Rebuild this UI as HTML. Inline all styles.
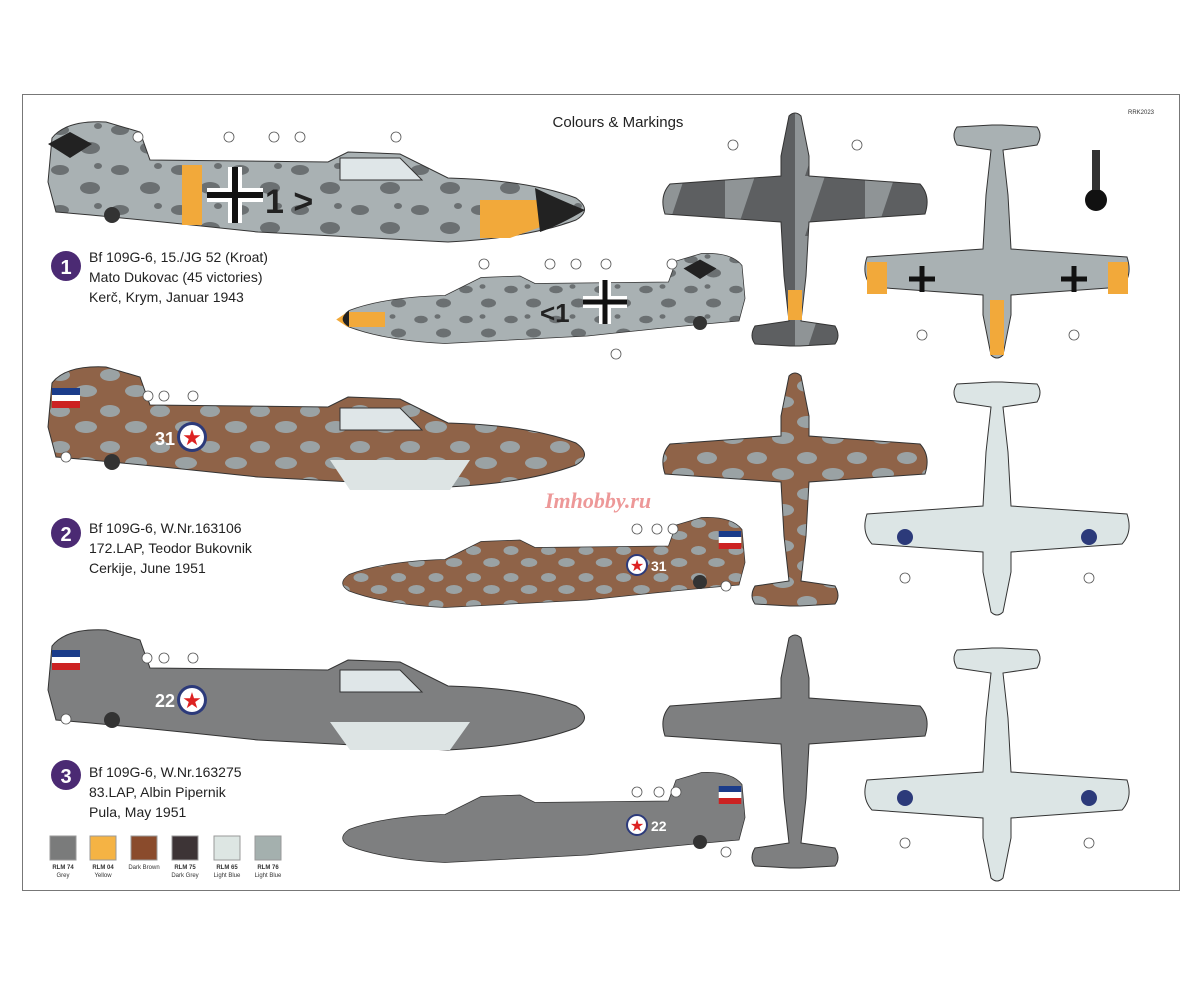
<!DOCTYPE html>
<html><head><meta charset="utf-8"><style>
body{margin:0;background:#fff;width:1200px;height:982px;overflow:hidden}
svg{display:block}
.c{font-family:"Liberation Sans",sans-serif;font-size:14px;fill:#222}
.s{font-family:"Liberation Sans",sans-serif;font-size:7px;fill:#333}
.n{font-family:"Liberation Sans",sans-serif;font-size:6px;fill:#333}
</style></head><body>
<svg width="1200" height="982" viewBox="0 0 1200 982">
<defs>
<path id="side" d="M0,62 L4,18 Q18,0 58,2 L92,12 L102,40 L280,42 L300,32 L352,34 L400,58 Q480,60 528,78 Q545,90 528,100 Q480,118 400,122 L210,112 Q80,98 8,92 Z"/>
<path id="top" d="M-6,0 Q0,-6 6,0 L14,40 L14,60 L125,68 Q136,80 130,98 L14,106 L11,160 L6,205 L40,210 Q46,220 40,228 L5,230 L-5,230 L-40,228 Q-46,220 -40,210 L-6,205 L-11,160 L-14,106 L-130,98 Q-136,80 -125,68 L-14,60 L-14,40 Z"/>
<pattern id="camo1" width="60" height="40" patternUnits="userSpaceOnUse"><rect width="60" height="40" fill="#a9b1b3"/><ellipse cx="12" cy="10" rx="9" ry="5" fill="#6b7072"/><ellipse cx="42" cy="28" rx="10" ry="6" fill="#6b7072"/><ellipse cx="50" cy="6" rx="4" ry="3" fill="#6b7072"/></pattern>
<pattern id="camo2" width="50" height="36" patternUnits="userSpaceOnUse"><rect width="50" height="36" fill="#8f6348"/><ellipse cx="12" cy="10" rx="10" ry="6" fill="#9aa2a4"/><ellipse cx="38" cy="26" rx="11" ry="6" fill="#9aa2a4"/></pattern>
<pattern id="camo3" width="70" height="60" patternUnits="userSpaceOnUse"><rect width="70" height="60" fill="#5d5f61"/><path d="M0,0 L30,0 L10,60 L0,60Z" fill="#8f9496"/></pattern>
</defs>
<rect x="22.5" y="94.5" width="1157" height="796" fill="none" stroke="#777" stroke-width="1"/>
<text x="618" y="127" class="c" text-anchor="middle" style="font-size:15px">Colours &amp; Markings</text>
<text x="1128" y="114" class="s" style="font-size:6px">RRK2023</text>

<!-- Row 1 -->
<use href="#side" transform="translate(48,120)" fill="url(#camo1)" stroke="#333"/>
<path d="M182,165 h20 v60 h-20z M480,200 h60 l20,20 l-50,18 h-30z" fill="#f2a93a"/>
<path d="M535,188 Q560,200 585,210 Q560,225 540,232 Z" fill="#222"/>
<path d="M340,158 h60 l22,22 h-82z" fill="#dfe6e8" stroke="#333"/>
<path d="M70,132 l22,12 l-22,14 l-22,-14z" fill="#222"/>
<g stroke="#fff" stroke-width="14"><path d="M235,167 v56 M207,195 h56"/></g>
<g stroke="#111" stroke-width="6"><path d="M235,167 v56 M207,195 h56"/></g>
<text x="265" y="213" style="font:bold 34px 'Liberation Sans',sans-serif" fill="#222">1 &gt;</text>
<circle cx="112" cy="215" r="8" fill="#333"/>
<g transform="translate(745,252) scale(-0.75,0.75)"><use href="#side" fill="url(#camo1)" stroke="#333"/><path d="M480,80 h50 l15,10 l-15,10 h-50z" fill="#f2a93a"/><path d="M528,78 Q545,90 528,100 Z" fill="#222"/><path d="M60,10 l22,12 l-22,14 l-22,-14z" fill="#222"/></g>
<g stroke="#fff" stroke-width="12"><path d="M605,280 v44 M583,302 h44"/></g>
<g stroke="#111" stroke-width="5"><path d="M605,280 v44 M583,302 h44"/></g>
<text x="540" y="322" style="font:bold 26px 'Liberation Sans',sans-serif" fill="#222">&lt;1</text>
<circle cx="700" cy="323" r="7" fill="#333"/>
<use href="#top" transform="translate(795,116)" fill="url(#camo3)" stroke="#333"/>
<rect x="788" y="290" width="14" height="30" fill="#f2a93a"/>
<use href="#top" transform="translate(997,355) scale(1,-1)" fill="#a9b1b3" stroke="#333"/>
<path d="M867,262 h20 v32 h-20z M1108,262 h20 v32 h-20z M990,300 h14 v55 h-14z" fill="#f2a93a"/>
<g stroke="#111" stroke-width="5"><path d="M922,266 v26 M909,279 h26 M1074,266 v26 M1061,279 h26"/></g>
<ellipse cx="1096" cy="200" rx="11" ry="11" fill="#111"/><rect x="1092" y="150" width="8" height="40" fill="#333"/>
<circle cx="66" cy="266" r="15" fill="#4b2a73"/><text x="66" y="274" text-anchor="middle" style="font:bold 20px 'Liberation Sans',sans-serif" fill="#fff">1</text>
<text x="89" y="262" class="c">Bf 109G-6, 15./JG 52 (Kroat)</text>
<text x="89" y="282" class="c">Mato Dukovac (45 victories)</text>
<text x="89" y="302" class="c">Kerč, Krym, Januar 1943</text>

<!-- Row 2 -->
<use href="#side" transform="translate(48,365)" fill="url(#camo2)" stroke="#333"/>
<path d="M340,408 h60 l22,22 h-82z" fill="#dfe6e8" stroke="#333"/>
<path d="M330,460 h140 l-20,30 h-100z" fill="#dde4e4"/>
<circle cx="192" cy="437" r="15" fill="#2c3a7a"/><circle cx="192" cy="437" r="12" fill="#fff"/><text x="192" y="445" text-anchor="middle" fill="#d22" style="font-size:22px">★</text>
<text x="155" y="445" style="font:bold 18px 'Liberation Sans',sans-serif" fill="#fff">31</text>
<path d="M52,388 h28 v7 h-28z" fill="#1b3c8a"/><path d="M52,395 h28 v6 h-28z" fill="#fff"/><path d="M52,401 h28 v7 h-28z" fill="#c22"/>
<circle cx="112" cy="462" r="8" fill="#333"/>
<g transform="translate(745,516) scale(-0.75,0.75)"><use href="#side" fill="url(#camo2)" stroke="#333"/><path d="M5,20 h30 v8 h-30z" fill="#1b3c8a"/><path d="M5,28 h30 v8 h-30z" fill="#fff"/><path d="M5,36 h30 v8 h-30z" fill="#c22"/></g>
<circle cx="637" cy="565" r="11" fill="#2c3a7a"/><circle cx="637" cy="565" r="9" fill="#fff"/><text x="637" y="571" text-anchor="middle" fill="#d22" style="font-size:16px">★</text>
<text x="651" y="571" style="font:bold 14px 'Liberation Sans',sans-serif" fill="#fff">31</text>
<circle cx="700" cy="582" r="7" fill="#333"/>
<use href="#top" transform="translate(795,376)" fill="url(#camo2)" stroke="#333"/>
<use href="#top" transform="translate(997,612) scale(1,-1)" fill="#dce5e5" stroke="#333"/>
<circle cx="905" cy="537" r="8" fill="#2c3a7a"/><circle cx="1089" cy="537" r="8" fill="#2c3a7a"/>
<circle cx="66" cy="533" r="15" fill="#4b2a73"/><text x="66" y="541" text-anchor="middle" style="font:bold 20px 'Liberation Sans',sans-serif" fill="#fff">2</text>
<text x="89" y="533" class="c">Bf 109G-6, W.Nr.163106</text>
<text x="89" y="553" class="c">172.LAP, Teodor Bukovnik</text>
<text x="89" y="573" class="c">Cerkije, June 1951</text>
<text x="545" y="508" style="font:italic bold 22px 'Liberation Serif',serif" fill="#d33" opacity="0.5">Imhobby.ru</text>

<!-- Row 3 -->
<use href="#side" transform="translate(48,628)" fill="#7e7f80" stroke="#333"/>
<path d="M340,670 h60 l22,22 h-82z" fill="#dfe6e8" stroke="#333"/>
<path d="M330,722 h140 l-20,28 h-100z" fill="#dde4e4"/>
<circle cx="192" cy="700" r="15" fill="#2c3a7a"/><circle cx="192" cy="700" r="12" fill="#fff"/><text x="192" y="708" text-anchor="middle" fill="#d22" style="font-size:22px">★</text>
<text x="155" y="707" style="font:bold 18px 'Liberation Sans',sans-serif" fill="#fff">22</text>
<path d="M52,650 h28 v7 h-28z" fill="#1b3c8a"/><path d="M52,657 h28 v6 h-28z" fill="#fff"/><path d="M52,663 h28 v7 h-28z" fill="#c22"/>
<circle cx="112" cy="720" r="8" fill="#333"/>
<g transform="translate(745,771) scale(-0.75,0.75)"><use href="#side" fill="#7e7f80" stroke="#333"/><path d="M5,20 h30 v8 h-30z" fill="#1b3c8a"/><path d="M5,28 h30 v8 h-30z" fill="#fff"/><path d="M5,36 h30 v8 h-30z" fill="#c22"/></g>
<circle cx="637" cy="825" r="11" fill="#2c3a7a"/><circle cx="637" cy="825" r="9" fill="#fff"/><text x="637" y="831" text-anchor="middle" fill="#d22" style="font-size:16px">★</text>
<text x="651" y="831" style="font:bold 14px 'Liberation Sans',sans-serif" fill="#fff">22</text>
<circle cx="700" cy="842" r="7" fill="#333"/>
<use href="#top" transform="translate(795,638)" fill="#7e7f80" stroke="#333"/>
<use href="#top" transform="translate(997,878) scale(1,-1)" fill="#dce5e5" stroke="#333"/>
<circle cx="905" cy="798" r="8" fill="#2c3a7a"/><circle cx="1089" cy="798" r="8" fill="#2c3a7a"/>
<circle cx="66" cy="775" r="15" fill="#4b2a73"/><text x="66" y="783" text-anchor="middle" style="font:bold 20px 'Liberation Sans',sans-serif" fill="#fff">3</text>
<text x="89" y="777" class="c">Bf 109G-6, W.Nr.163275</text>
<text x="89" y="797" class="c">83.LAP, Albin Pipernik</text>
<text x="89" y="817" class="c">Pula, May 1951</text>

<!-- callouts -->
<g fill="#fff" stroke="#555" stroke-width="0.8">
<circle cx="138" cy="137" r="5"/><circle cx="229" cy="137" r="5"/><circle cx="274" cy="137" r="5"/><circle cx="300" cy="137" r="5"/><circle cx="396" cy="137" r="5"/>
<circle cx="733" cy="145" r="5"/><circle cx="857" cy="145" r="5"/><circle cx="922" cy="335" r="5"/><circle cx="1074" cy="335" r="5"/>
<circle cx="484" cy="264" r="5"/><circle cx="550" cy="264" r="5"/><circle cx="576" cy="264" r="5"/><circle cx="606" cy="264" r="5"/><circle cx="672" cy="264" r="5"/><circle cx="616" cy="354" r="5"/>
<circle cx="148" cy="396" r="5"/><circle cx="164" cy="396" r="5"/><circle cx="193" cy="396" r="5"/><circle cx="66" cy="457" r="5"/>
<circle cx="637" cy="529" r="5"/><circle cx="657" cy="529" r="5"/><circle cx="673" cy="529" r="5"/><circle cx="726" cy="586" r="5"/><circle cx="905" cy="578" r="5"/><circle cx="1089" cy="578" r="5"/>
<circle cx="147" cy="658" r="5"/><circle cx="164" cy="658" r="5"/><circle cx="193" cy="658" r="5"/><circle cx="66" cy="719" r="5"/>
<circle cx="637" cy="792" r="5"/><circle cx="659" cy="792" r="5"/><circle cx="676" cy="792" r="5"/><circle cx="726" cy="852" r="5"/><circle cx="905" cy="843" r="5"/><circle cx="1089" cy="843" r="5"/>
</g>

<!-- Legend -->
<g stroke="#999">
<rect x="50" y="836" width="26" height="24" fill="#7a7b7b"/>
<rect x="90" y="836" width="26" height="24" fill="#f5b344"/>
<rect x="131" y="836" width="26" height="24" fill="#8a4b2c"/>
<rect x="172" y="836" width="26" height="24" fill="#3d3436"/>
<rect x="214" y="836" width="26" height="24" fill="#dde6e3"/>
<rect x="255" y="836" width="26" height="24" fill="#a4b0ae"/>
</g>
<g class="s" text-anchor="middle" style="font-size:6px">
<text x="63" y="869" font-weight="bold">RLM 74</text><text x="63" y="877">Grey</text>
<text x="103" y="869" font-weight="bold">RLM 04</text><text x="103" y="877">Yellow</text>
<text x="144" y="869">Dark Brown</text>
<text x="185" y="869" font-weight="bold">RLM 75</text><text x="185" y="877">Dark Grey</text>
<text x="227" y="869" font-weight="bold">RLM 65</text><text x="227" y="877">Light Blue</text>
<text x="268" y="869" font-weight="bold">RLM 76</text><text x="268" y="877">Light Blue</text>
</g>
</svg>
</body></html>
